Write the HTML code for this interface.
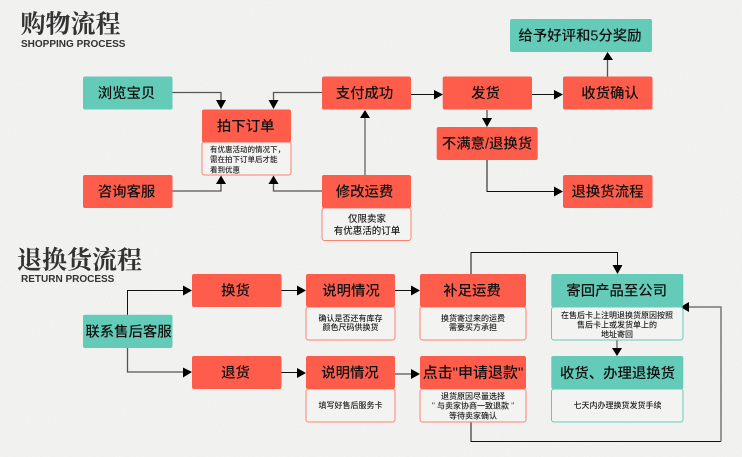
<!DOCTYPE html>
<html lang="zh"><head><meta charset="utf-8"><style>
html,body{margin:0;padding:0;background:#f1f1f0}
svg{display:block}
text{font-family:"Liberation Sans","Noto Sans CJK SC",sans-serif;text-anchor:middle;fill:#111}
.t{font-size:14.4px;font-weight:500}
.s{font-size:8px;font-weight:500;fill:#222}
.title{font-family:"Liberation Serif","Noto Serif CJK SC",serif;font-weight:700;font-size:25px;text-anchor:start;fill:#333}
.en{font-family:"Liberation Sans",sans-serif;font-weight:700;font-size:10px;text-anchor:start;fill:#333}
.r{fill:#ff5d4c}.g{fill:#65cbb9}
.sr{fill:#f3f3f2;stroke:#ff8070;stroke-width:1}
.sg{fill:#f3f3f2;stroke:#65cbb9;stroke-width:1}
.l{fill:none;stroke:#111;stroke-width:1}
.l2{fill:none;stroke:#555;stroke-width:1.3}
.l3{fill:none;stroke:#777;stroke-width:1.5}
</style></head><body>
<svg xmlns="http://www.w3.org/2000/svg" width="742" height="457" viewBox="0 0 742 457">
<defs>
<filter id="n" x="0" y="0" width="100%" height="100%"><feTurbulence type="fractalNoise" baseFrequency="0.7" numOctaves="2" seed="3"/><feColorMatrix values="0 0 0 0 0.5 0 0 0 0 0.5 0 0 0 0 0.5 0.5 0 0 0 -0.18"/></filter>
</defs>
<rect width="742" height="457" fill="#f2f2f1"/>
<rect width="742" height="457" filter="url(#n)" opacity="0.25"/>

<text class="title" x="20.5" y="32.500">购物流程</text>
<text class="en" x="21" y="47">SHOPPING PROCESS</text>
<text class="title" x="17" y="268.500">退换货流程</text>
<text class="en" x="21" y="282">RETURN PROCESS</text>

<!-- connectors -->
<path class="l2" d="M172 92.5H221V101"/>
<path class="l2" d="M322 92.5H273.5V101"/>
<path class="l2" d="M172 191H221V183"/>
<path class="l2" d="M322 191H273.5V183"/>
<path class="l3" d="M365 176V117"/>
<path class="l" d="M411 94.5H435"/>
<path class="l" d="M532 94.5H555"/>
<path class="l2" d="M607.5 77V59"/>
<path class="l2" d="M487 110V119"/>
<path class="l" d="M487 160V191.5H555"/>
<path class="l" d="M127.5 315V290.5H184"/>
<path class="l2" d="M127.5 348V372H184"/>
<path class="l" d="M281 290.5H298"/>
<path class="l" d="M281 372.5H298"/>
<path class="l" d="M395 290.5H412"/>
<path class="l2" d="M395 374H412"/>
<path class="l" d="M471 274V252.5H617.5V266"/>
<path class="l3" d="M617 340V349"/>
<path class="l" d="M471 422V441.5H721"/>
<path class="l3" d="M721 441.5V307H688"/>

<!-- arrowheads -->
<g fill="#000">
<path d="M216 100H226L221 109Z"/><path d="M268.500 100H278.500L273.500 109Z"/>
<path d="M216 184H226L221 175.500Z"/><path d="M268.500 184H278.500L273.500 175.500Z"/>
<path d="M360 118H370L365 110Z"/>
<path d="M434 90V99.500L443 94.500Z"/><path d="M554 90V99.500L563 94.500Z"/>
<path d="M603 60H613L607.500 52Z"/>
<path d="M482 118H492L487 127Z"/>
<path d="M554 186.500V196.500L563 191.500Z"/>
<path d="M183 285.500V295.500L192 290.500Z"/><path d="M183 367.500V377.500L192 372Z"/>
<path d="M297 285.500V295.500L306 290.500Z"/><path d="M297 368V378L306 373Z"/>
<path d="M411 285.500V295.500L420 290.500Z"/><path d="M411 369V379L420 374Z"/>
<path d="M612.500 265H622.500L617.500 274Z"/>
<path d="M612 348H622L617 356Z"/>
<path d="M689 302V312L680.500 307Z"/>
</g>

<!-- top boxes -->
<rect class="g" x="83" y="76.500" width="89.500" height="33" rx="2"/><text class="t" x="126.500" y="98">浏览宝贝</text>
<rect class="r" x="83" y="175" width="89.500" height="33" rx="2"/><text class="t" x="126.500" y="196.500">咨询客服</text>

<rect class="sr" x="202" y="142" width="89" height="33" rx="2.500"/>
<rect class="r" x="202" y="109.500" width="89" height="33" rx="2"/><text class="t" x="245.700" y="131">拍下订单</text>
<text class="s" style="font-size:7.500px;text-anchor:start" x="210" y="152">有优惠活动的情况下，</text>
<text class="s" style="font-size:7.500px;text-anchor:start" x="210" y="162">需在拍下订单后才能</text>
<text class="s" style="font-size:7.500px;text-anchor:start" x="210" y="172.500">看到优惠</text>

<rect class="r" x="322" y="76.500" width="89" height="33" rx="2"/><text class="t" x="364.500" y="98">支付成功</text>
<rect class="sr" x="322" y="208" width="89" height="32.500" rx="2.500"/>
<rect class="r" x="322" y="175" width="89" height="33" rx="2"/><text class="t" x="364.500" y="196.500">修改运费</text>
<text class="s" style="font-size:9.500px" x="367" y="222">仅限卖家</text>
<text class="s" style="font-size:9.500px" x="367" y="234">有优惠活的订单</text>

<rect class="r" x="442.700" y="76.500" width="89.300" height="33" rx="2"/><text class="t" x="485.500" y="98">发货</text>
<rect class="r" x="563" y="76.500" width="89.500" height="33" rx="2"/><text class="t" x="610" y="98">收货确认</text>
<rect class="g" x="510" y="19" width="142" height="33" rx="2"/><text class="t" x="580" y="40.500">给予好评和5分奖励</text>
<rect class="r" x="436.700" y="127" width="101" height="33" rx="2"/><text class="t" x="487" y="148.500">不满意/退换货</text>
<rect class="r" x="563" y="175" width="89.500" height="33" rx="2"/><text class="t" x="607.500" y="196.500">退换货流程</text>

<!-- bottom boxes -->
<rect class="g" x="83" y="314.700" width="89.500" height="33.300" rx="2"/><text class="t" x="128.500" y="336.500">联系售后客服</text>
<rect class="r" x="192" y="274" width="89.500" height="33" rx="2"/><text class="t" x="235.500" y="295.500">换货</text>
<rect class="r" x="192" y="356" width="89.500" height="33" rx="2"/><text class="t" x="235.500" y="377.500">退货</text>

<rect class="sr" x="306" y="307" width="89" height="33" rx="2.500"/>
<rect class="r" x="306" y="274" width="89" height="33" rx="2"/><text class="t" x="351" y="295.500">说明情况</text>
<text class="s" x="350.500" y="321">确认是否还有库存</text>
<text class="s" x="350.500" y="330">颜色尺码供换货</text>

<rect class="sr" x="306" y="389" width="89" height="33" rx="2.500"/>
<rect class="r" x="306" y="356" width="89" height="33" rx="2"/><text class="t" x="350" y="377.500">说明情况</text>
<text class="s" x="350.500" y="408">填写好售后服务卡</text>

<rect class="sr" x="420" y="307" width="106" height="33" rx="2.500"/>
<rect class="r" x="420" y="274" width="106" height="33" rx="2"/><text class="t" x="472" y="295.500">补足运费</text>
<text class="s" x="473" y="321">换货寄过来的运费</text>
<text class="s" x="473" y="330">需要买方承担</text>

<rect class="sr" x="420" y="389" width="106" height="33" rx="2.500"/>
<rect class="r" x="420" y="356" width="106" height="33" rx="2"/><text class="t" style="font-size:15px" x="473" y="377.500">点击"申请退款"</text>
<text class="s" x="473" y="399">退货原因尽量选择</text>
<text class="s" x="473" y="408.500">" 与卖家协商一致退款 "</text>
<text class="s" x="473" y="418.500">等待卖家确认</text>

<rect class="sg" x="551.500" y="307" width="131.500" height="33" rx="2.500"/>
<rect class="g" x="551.300" y="274" width="132" height="33" rx="2"/><text class="t" x="616.700" y="295.500">寄回产品至公司</text>
<text class="s" x="617" y="318">在售后卡上注明退换货原因按照</text>
<text class="s" x="617" y="327.500">售后卡上或发货单上的</text>
<text class="s" x="617" y="337">地址寄回</text>

<rect class="sg" x="551.500" y="389" width="131.500" height="33" rx="2.500"/>
<rect class="g" x="551.300" y="356" width="132" height="33" rx="2"/><text class="t" x="617.500" y="378">收货、办理退换货</text>
<text class="s" x="617.500" y="408">七天内办理换货发货手续</text>
</svg>
</body></html>
